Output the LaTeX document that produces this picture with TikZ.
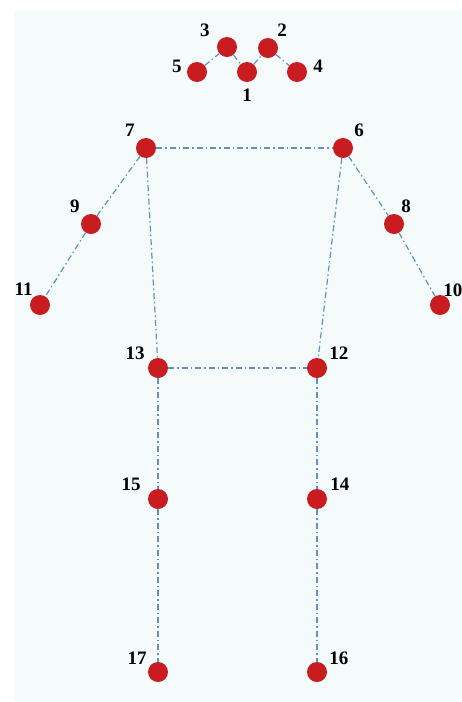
\documentclass[tikz,border=0pt]{standalone}
\usepackage{fontspec}
\setmainfont{Liberation Serif}
\usepackage{tikz}
\usetikzlibrary{positioning, calc}
\definecolor{jointred}{RGB}{200,28,32}
\definecolor{bonelink}{RGB}{95,145,195}
\definecolor{panelbg}{RGB}{245,250,250}
\tikzset{
  joint/.style={circle,fill=jointred,draw=none,minimum size=20pt,inner sep=0pt},
  jlbl/.style={font=\fontsize{19}{21}\selectfont\bfseries,text=black,inner sep=1pt},
  bone/.style={draw=bonelink,line width=1.2pt,dash pattern=on 6pt off 3pt on 1.5pt off 3pt}
}

\begin{document}
\begin{tikzpicture}[x=1pt,y=-1pt,label distance=0pt]
  \useasboundingbox (0,0) rectangle (462,702);
  \fill[panelbg] (14,10) rectangle (462,702);
  % head
  \node[joint,label={[jlbl,yshift=-6pt]below:1}] (n1) at (247,72) {};
  \node[joint,label={[jlbl,xshift=1pt,yshift=3pt]above right:2}] (n2) at (268,48) {};
  \node[joint,label={[jlbl,xshift=-9pt,yshift=2pt]above left:3}] (n3) at (227,47) {};
  \node[joint,label={[jlbl,xshift=5pt,yshift=6pt]right:4}] (n4) at (297,72) {};
  \node[joint,label={[jlbl,xshift=-4pt,yshift=6pt]left:5}] (n5) at (197,72) {};
  % arms
  \node[joint,label={[jlbl,xshift=3pt,yshift=3pt]above right:6}] (n6) at (343,148) {};
  \node[joint,label={[jlbl,xshift=-3pt,yshift=3pt]above left:7}] (n7) at (146,148) {};
  \node[joint,label={[jlbl,xshift=-1pt,yshift=3pt]above right:8}] (n8) at (394,224) {};
  \node[joint,label={[jlbl,xshift=-3pt,yshift=3pt]above left:9}] (n9) at (91,224) {};
  \node[joint,label={[jlbl,xshift=-5pt]above right:10}] (n10) at (440,305) {};
  \node[joint,label={[jlbl,xshift=1pt,yshift=1pt]above left:11}] (n11) at (40,305) {};
  % legs
  \node[joint,label={[jlbl,xshift=4pt]above right:12}] (n12) at (317,368) {};
  \node[joint,label={[jlbl,xshift=-5pt]above left:13}] (n13) at (158,368) {};
  \node[joint,label={[jlbl,xshift=5pt]above right:14}] (n14) at (317,499) {};
  \node[joint,label={[jlbl,xshift=-9pt]above left:15}] (n15) at (158,499) {};
  \node[joint,label={[jlbl,xshift=4pt,yshift=-1pt]above right:16}] (n16) at (317,672) {};
  \node[joint,label={[jlbl,xshift=-3pt,yshift=-1pt]above left:17}] (n17) at (158,672) {};

  \draw[bone] (n5)--(n3); \draw[bone] (n3)--(n1); \draw[bone] (n1)--(n2); \draw[bone] (n2)--(n4);
  \draw[bone] (n7)--(n6);
  \draw[bone] (n7)--(n9); \draw[bone] (n9)--(n11);
  \draw[bone] (n6)--(n8); \draw[bone] (n8)--(n10);
  \draw[bone] (n7)--(n13); \draw[bone] (n6)--(n12); \draw[bone] (n13)--(n12);
  \draw[bone] (n13)--(n15); \draw[bone] (n15)--(n17);
  \draw[bone] (n12)--(n14); \draw[bone] (n14)--(n16);
\end{tikzpicture}
\end{document}
